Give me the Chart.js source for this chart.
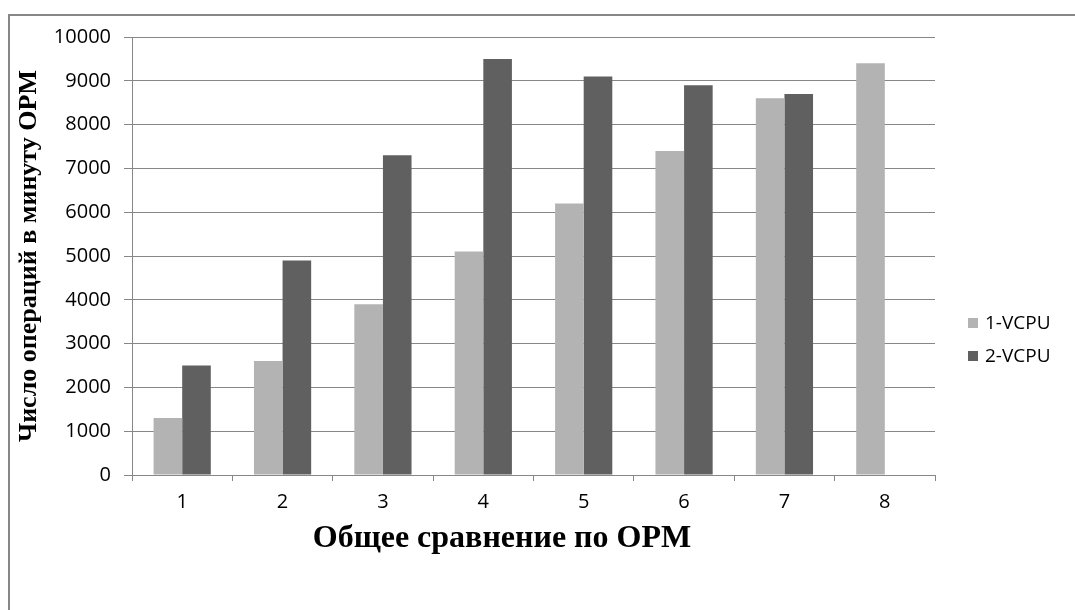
<!DOCTYPE html>
<html>
<head>
<meta charset="utf-8">
<script src="https://cdn.jsdelivr.net/npm/chart.js@4"></script>
<style>
    html, body { margin: 0; padding: 0; background: #fff; }
    #wrap { width: 1075px; height: 610px; }
</style>
</head>
<body>
<div id="wrap"><canvas id="opmChart" width="1075" height="610"></canvas></div>
<script>
// Chart data
const categories = ['1', '2', '3', '4', '5', '6', '7', '8'];
const seriesNames = ['1-VCPU', '2-VCPU'];
const vcpu1 = [1300, 2600, 3900, 5100, 6200, 7400, 8600, 9400];
const vcpu2 = [2500, 4900, 7300, 9500, 9100, 8900, 8700, null];
const seriesColors = ['#b3b3b3', '#606060'];
const xTitle = 'Общее сравнение по OPM';
const yTitle = 'Число операций в минуту OPM';

const lineGray = '#878787';
const tickFont = { family: 'Open Sans', size: 20 };

// Frame around the chart (only top and left edges are visible)
const framePlugin = {
    id: 'frame',
    beforeDraw(chart) {
        const ctx = chart.ctx;
        ctx.save();
        ctx.fillStyle = '#ffffff';
        ctx.fillRect(0, 0, chart.width, chart.height);
        ctx.strokeStyle = lineGray;
        ctx.lineWidth = 2;
        ctx.beginPath();
        ctx.moveTo(9, chart.height);
        ctx.lineTo(9, 15);
        ctx.lineTo(chart.width, 15);
        ctx.stroke();
        ctx.restore();
    }
};

// Legend to the right of the plot + x title (sits a bit left of the plot centre)
const extrasPlugin = {
    id: 'extras',
    afterDraw(chart) {
        const ctx = chart.ctx;
        const x = chart.chartArea.right + 33;
        ctx.save();
        ctx.font = '19px "Open Sans"';
        ctx.textBaseline = 'middle';
        chart.data.datasets.forEach((ds, i) => {
            const y = 323 + i * 33;
            ctx.fillStyle = ds.backgroundColor;
            ctx.fillRect(x, y - 5, 10, 10);
            ctx.fillStyle = '#000';
            ctx.fillText(ds.label, x + 17, y + 1);
        });

        ctx.font = 'bold 32px "Liberation Serif"';
        ctx.textAlign = 'center';
        ctx.fillText(xTitle, 502, 539);
        ctx.restore();
    }
};

const ctx = document.getElementById('opmChart').getContext('2d');
new Chart(ctx, {
    type: 'bar',
    data: {
        labels: categories,
        datasets: [
            { label: seriesNames[0], data: vcpu1, backgroundColor: seriesColors[0] },
            { label: seriesNames[1], data: vcpu2, backgroundColor: seriesColors[1] }
        ]
    },
    options: {
        responsive: false,
        animation: false,
        devicePixelRatio: 1,
        layout: { padding: { top: 37, right: 140, bottom: 0, left: 0 } },
        datasets: {
            bar: { categoryPercentage: 0.57, barPercentage: 1.0 }
        },
        plugins: {
            legend: { display: false },
            tooltip: { enabled: false }
        },
        scales: {
            x: {
                grid: {
                    display: true,
                    drawOnChartArea: false,
                    drawTicks: true,
                    tickLength: 6,
                    color: lineGray,
                    offset: true
                },
                border: { color: lineGray, width: 1 },
                ticks: { color: '#000', font: tickFont, padding: 9 },
                afterFit(scale) { scale.height = 135; }
            },
            y: {
                min: 0,
                max: 10000,
                ticks: {
                    stepSize: 1000,
                    color: '#000',
                    font: tickFont,
                    padding: 13,
                    callback: (v) => String(v)
                },
                grid: { color: lineGray, tickLength: 8 },
                border: { color: lineGray, width: 1 },
                title: {
                    display: true,
                    text: yTitle,
                    color: '#000',
                    font: { family: 'Liberation Serif', size: 26, weight: 'bold' },
                    padding: { top: 14, bottom: 0 }
                },
                afterFit(scale) { scale.width = 132; }
            }
        }
    },
    plugins: [framePlugin, extrasPlugin]
});
</script>
</body>
</html>
